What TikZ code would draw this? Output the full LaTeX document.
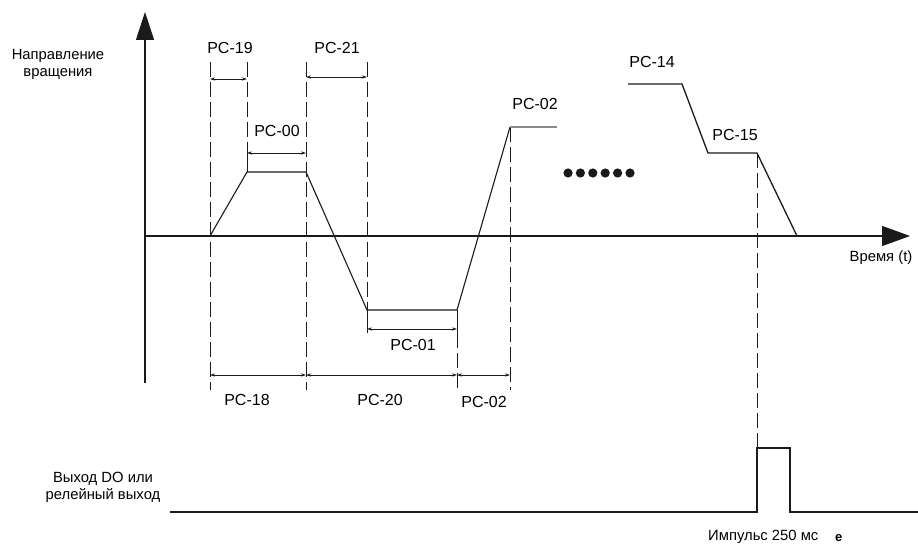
\documentclass[tikz,border=0pt]{standalone}
\usepackage{fontspec}
\setmainfont{Liberation Sans}
\usetikzlibrary{arrows.meta}
\definecolor{ink}{HTML}{1A1A1A}
\definecolor{greyline}{HTML}{8A8A8A}
\newcommand{\lbl}{\fontsize{14.8}{17}\selectfont}
\newcommand{\pclbl}{\fontsize{16}{19}\selectfont}
\newcommand{\micro}{\fontsize{13}{15}\selectfont}

\begin{document}
\begin{tikzpicture}[x=1pt,y=-1pt,
  guide/.style={ink,line width=0.9pt,dash pattern=on 15pt off 5pt},
  dimline/.style={ink,line width=0.7pt,{Stealth[length=5pt,width=3.2pt]}-{Stealth[length=5pt,width=3.2pt]}},
  curve/.style={ink,line width=1.1pt}]
\useasboundingbox (0,0) rectangle (918,545);
% corners of the speed profile
\coordinate (a) at (210,236);
\coordinate (b) at (247,172);
\coordinate (c) at (306,172);
\coordinate (d) at (367,310);
\coordinate (e) at (457,310);
\coordinate (f) at (510,127);
\coordinate (g) at (557,127);
\coordinate (h) at (628,84);
\coordinate (i) at (682,84);
\coordinate (j) at (708,153);
\coordinate (k) at (757,153);
\coordinate (l) at (797,236);
% axes
\draw[ink,line width=1.1pt,-{Triangle[length=28pt,width=18pt]}] (145,383) -- (145,12);
\draw[ink,line width=1.1pt,-{Triangle[length=28pt,width=20pt]}] (145,236) -- (910,236);
% guides
\draw[guide] (a |- 0,62) -- (a |- 0,390);
\draw[guide] (b |- 0,62) -- (b);
\draw[guide] (c |- 0,62) -- (c |- 0,390);
\draw[guide] (d |- 0,62) -- (d);
\draw[guide] (e |- 0,333) -- (e |- 0,390);
\draw[guide] (f) -- (f |- 0,390);
\draw[guide] (k) -- (k |- 0,448);
\draw[ink,line width=0.9pt] (b |- 0,153) -- (b);
\draw[ink,line width=0.9pt] (d) -- (d |- 0,333);
\draw[ink,line width=0.9pt] (e) -- (e |- 0,333);
% profile
\draw[curve] (a) -- (b) -- (c) -- (d) -- (e) -- (f);
\draw[greyline,line width=1.1pt] (f) -- (g);
\draw[curve,line width=1.3pt] (h) -- (i) -- (j) -- (k) -- (l);
\foreach \n in {0,...,5}
  \fill[ink] (568+12.4*\n,173) circle (4.6);
% dimensions
\draw[dimline] (a |- 0,79) -- (b |- 0,79);
\draw[dimline] (c |- 0,77) -- (d |- 0,77);
\draw[dimline] (b |- 0,153) -- (c |- 0,153);
\draw[dimline] (d |- 0,329) -- (e |- 0,329);
\draw[dimline] (a |- 0,375) -- (c |- 0,375);
\draw[dimline] (c |- 0,375) -- (e |- 0,375);
\draw[dimline] (e |- 0,375) -- (f |- 0,375);
\node[font=\pclbl] (lbl19) at (230,48) {PC-19};
\node[font=\pclbl] (lbl21) at (337,48) {PC-21};
\node[font=\pclbl] (lbl00) at (277,131) {PC-00};
\node[font=\pclbl] (lbl01) at (413,345) {PC-01};
\node[font=\pclbl] (lbl18) at (247,400) {PC-18};
\node[font=\pclbl] (lbl20) at (380,400) {PC-20};
\node[font=\pclbl] (lbl02b) at (484,402) {PC-02};
\node[font=\pclbl] (lbl02) at (535,104) {PC-02};
\node[font=\pclbl] (lbl14) at (652,62) {PC-14};
\node[font=\pclbl] (lbl15) at (735,135) {PC-15};
% axis texts
\node[font=\lbl,align=center,inner sep=0] (ylbl) at (58,64) {Направление\\вращения};
\node[font=\lbl,inner sep=0] (tlbl) at (881,258) {Время (t)};
% output signal
\draw[ink,line width=1.1pt] (170,512) -- (k |- 0,512) -- (k |- 0,448) -- (790,448) -- (790,512) -- (918,512);
\node[font=\lbl,align=center,inner sep=0] (dolbl) at (103,487) {Выход DO или\\релейный выход};
\node[font=\lbl,anchor=west,inner sep=0] (pulselbl) at (708,537) {Импульс 250 мс};
\node[font=\micro\bfseries,anchor=base west,inner sep=0] (elbl) at (835,541.5) {е};
\end{tikzpicture}
\end{document}
